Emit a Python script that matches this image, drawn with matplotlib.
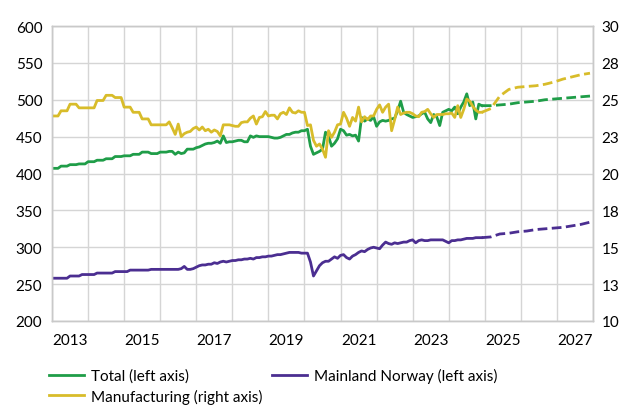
import numpy as np
import pandas as pd
import matplotlib.pyplot as plt

plt.rcParams['font.family'] = ['Lato', 'DejaVu Sans']

# Monthly actual figures, Jan 2013 - Dec 2024 (NOK bn, left axis)
total = [407, 407, 407, 410, 410, 410, 412, 412, 412, 413, 413, 413,
         416, 416, 416, 418, 418, 418, 420, 420, 420, 423, 423, 423,
         424, 424, 424, 426, 426, 426, 429, 429, 429, 427, 427, 427,
         429, 429, 429, 430, 430, 426, 429, 427, 428, 433, 433, 433,
         435, 436, 438, 440, 441, 441, 442, 444, 441, 451, 442, 443,
         443, 444, 445, 445, 443, 443, 451, 449, 451, 450, 450, 450,
         450, 449, 448, 448, 449, 451, 453, 453, 455, 456, 456, 458,
         458, 460, 437, 426, 428, 430, 433, 456, 451, 437, 441, 447,
         460, 458, 452, 453, 451, 452, 444, 476, 471, 474, 472, 477,
         464, 470, 472, 471, 472, 474, 475, 485, 498, 483, 480, 478,
         476, 477, 478, 481, 483, 474, 469, 480, 477, 465, 483, 485,
         487, 485, 490, 481, 490, 497, 508, 492, 497, 474, 494, 492]

mainland = [258, 258, 258, 258, 258, 258, 261, 261, 261, 261, 263, 263,
            263, 263, 263, 265, 265, 265, 265, 265, 265, 267, 267, 267,
            267, 267, 269, 269, 269, 269, 269, 269, 269, 270, 270, 270,
            270, 270, 270, 270, 270, 270, 270, 271, 274, 270, 270, 271,
            273, 275, 276, 276, 277, 277, 279, 278, 280, 281, 280, 281,
            282, 282, 283, 283, 284, 284, 285, 284, 286, 286, 287, 287,
            288, 288, 289, 290, 290, 291, 292, 293, 293, 293, 293, 292,
            292, 292, 280, 261, 268, 275, 279, 281, 281, 284, 287, 285,
            289, 290, 286, 284, 288, 290, 293, 295, 294, 297, 299, 300,
            299, 298, 303, 307, 305, 304, 306, 305, 306, 307, 307, 309,
            310, 306, 309, 310, 309, 309, 310, 310, 310, 310, 310, 308,
            306, 309, 309, 310, 310, 311, 312, 312, 312, 313, 313, 313]

# Manufacturing (NOK bn, right axis)
manuf = [23.9, 23.9, 23.9, 24.25, 24.25, 24.25, 24.7, 24.7, 24.7, 24.45, 24.45, 24.45,
         24.45, 24.45, 24.45, 24.95, 24.95, 24.95, 25.3, 25.3, 25.3, 25.15, 25.15, 25.15,
         24.5, 24.5, 24.5, 24.15, 24.15, 24.15, 23.7, 23.7, 23.7, 23.3, 23.3, 23.3,
         23.3, 23.3, 23.3, 23.5, 23.1, 22.65, 23.35, 22.5, 22.7, 22.8, 22.85, 23.05,
         23.15, 22.95, 23.15, 22.9, 23.0, 22.8, 22.95, 22.85, 22.55, 23.3, 23.3, 23.3,
         23.25, 23.2, 23.2, 23.45, 23.5, 23.5, 23.75, 23.9, 23.35, 23.8, 23.85, 24.2,
         23.9, 23.95, 23.95, 23.7, 24.05, 24.15, 24.0, 24.45, 24.15, 24.1, 24.25, 24.15,
         24.15, 23.25, 23.3, 22.25, 21.85, 22.0, 21.65, 21.1, 22.9, 22.45, 22.8, 23.3,
         23.35, 24.15, 23.75, 23.2, 23.8, 23.55, 24.5, 23.5, 23.85, 23.65, 23.9, 23.9,
         24.35, 24.65, 24.15, 24.5, 24.7, 22.9, 23.65, 24.5, 24.0, 24.1, 24.15, 24.15,
         24.05, 23.9, 23.85, 24.15, 24.2, 24.35, 24.05, 23.8, 24.0, 24.0, 24.0, 24.05,
         24.05, 24.1, 23.8, 24.6, 23.8, 24.35, 25.05, 24.9, 24.55, 24.3, 24.15, 24.15]

# Projections, quarterly from Dec 2024 to Dec 2027
fc_total = [492, 492, 493, 494, 496, 497, 498, 500, 501, 502, 503, 504, 505]
fc_mainland = [313, 314, 318, 319, 321, 322, 324, 325, 326, 327, 329, 331, 334]
fc_manuf = [24.15, 24.4, 25.25, 25.7, 25.85, 25.9, 25.95, 26.05, 26.2, 26.4, 26.55, 26.7, 26.8]

right_labels = ['10', '13', '15', '18', '20', '23', '25', '28', '30']
year_labels = ['2013', '2015', '2017', '2019', '2021', '2023', '2025', '2027']

green = '#1f9d48'
purple = '#4b2e91'
yellow = '#d8bc2a'

months = pd.period_range('2013-01', periods=len(total), freq='M')
x = months.year + (months.month - 1) / 12
fc_x = x[-1] + np.arange(len(fc_total)) * 0.25

fig = plt.figure(figsize=(6.22, 4.14), dpi=100)
ax = fig.add_axes([52 / 622, 1 - 322 / 414, (593 - 52) / 622, (322 - 27) / 414])
ax2 = ax.twinx()

lw = 2.0
dash = (0, (3.5, 1.6))
l_tot, = ax.plot(x, total, color=green, lw=lw, label='Total (left axis)')
ax.plot(fc_x, fc_total, color=green, lw=lw, ls=dash)
l_main, = ax.plot(x, mainland, color=purple, lw=lw, label='Mainland Norway (left axis)')
ax.plot(fc_x, fc_mainland, color=purple, lw=lw, ls=dash)
l_man, = ax2.plot(x, manuf, color=yellow, lw=lw, label='Manufacturing (right axis)')
ax2.plot(fc_x, fc_manuf, color=yellow, lw=lw, ls=dash)

ax.set_xlim(2013, 2028)
ax.set_ylim(200, 600)
ax2.set_ylim(10, 30)
ax.set_yticks(np.arange(200, 601, 50))
ax2.set_yticks(np.linspace(10, 30, 9), right_labels)

# year gridlines on the boundaries, labels centred inside every other year
ax.set_xticks(np.arange(2013, 2029), [])
ax.set_xticks(np.arange(2013, 2028, 2) + 0.5, year_labels, minor=True)
ax.tick_params(axis='x', which='both', length=0, pad=9, labelsize=11)
ax.tick_params(axis='y', length=0, pad=7, labelsize=11)
ax2.tick_params(axis='y', length=0, pad=6, labelsize=11)

ax.grid(True, which='major', color='#d5d5d5', lw=1)
ax.set_axisbelow(True)
for a in (ax, ax2):
    for s in a.spines.values():
        s.set_color('#c9c9c9')
        s.set_linewidth(1)

fig.legend([l_tot, l_man, l_main],
           ['Total (left axis)', 'Manufacturing (right axis)', 'Mainland Norway (left axis)'],
           ncol=2, loc='upper left', bbox_to_anchor=(43 / 622, 1 - 363 / 414),
           frameon=False, fontsize=11, handlelength=2.3, handletextpad=0.45,
           columnspacing=0.6, labelspacing=0.35, borderaxespad=0)

fig.savefig('out.png', dpi=100)
